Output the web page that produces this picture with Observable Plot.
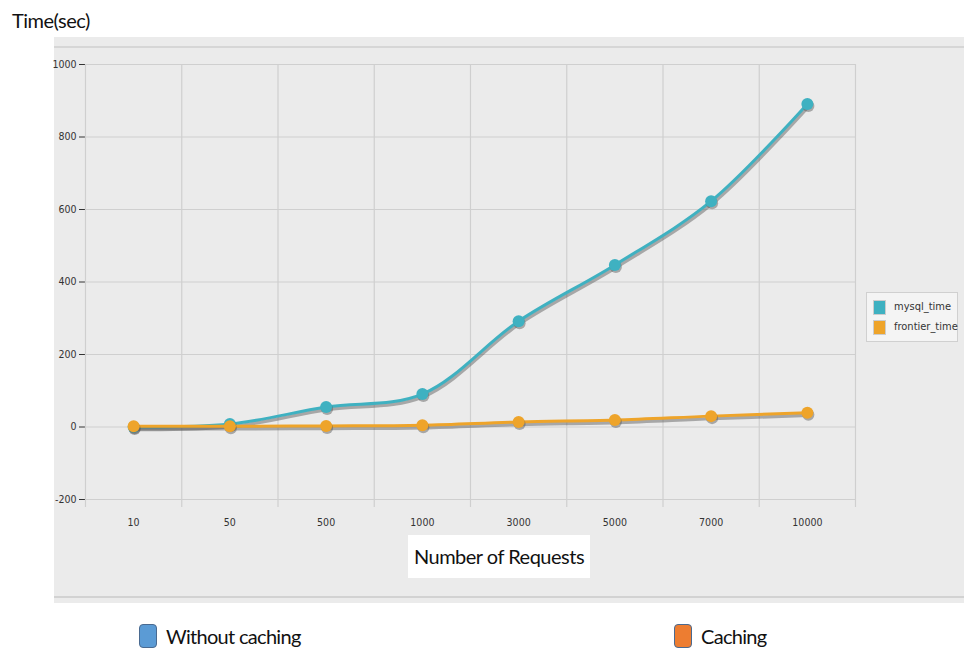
<!DOCTYPE html>
<html><head><meta charset="utf-8">
<script src="https://cdn.jsdelivr.net/npm/d3@7"></script>
<script src="https://cdn.jsdelivr.net/npm/@observablehq/plot@0.6"></script>
<style>
body{margin:0;background:#fff;width:964px;height:651px;position:relative;overflow:hidden;font-family:Lato,"Open Sans",sans-serif;}
#ytitle{position:absolute;left:12px;top:8px;font-size:20px;letter-spacing:-0.5px;color:#111;}
#panel{position:absolute;left:54px;top:37px;width:910px;height:566px;background:#ebebeb;}
#panel .topline{position:absolute;left:0;top:9px;width:910px;height:2px;background:#d6d6d6;}
#panel .botline{position:absolute;left:0;top:559px;width:910px;height:2px;background:#d2d2d2;}
#chart{position:absolute;left:0;top:10px;}
#chart svg{overflow:visible;}
#xtitle{position:absolute;left:354px;top:498px;width:182px;height:43px;background:#fff;font-size:20px;letter-spacing:-0.5px;line-height:43px;text-align:center;color:#111;}
#rlegend{position:absolute;left:812px;top:255px;width:90px;height:48px;background:#f4f4f4;border:1px solid #d0d0d0;font-family:"Liberation Sans Narrow","DejaVu Sans Condensed",sans-serif;font-size:11px;color:#333;}
#rlegend .it{position:absolute;left:6px;height:16px;line-height:16px;white-space:nowrap;}
#rlegend .sw{display:inline-block;width:11px;height:13px;border:1px solid #ccc;vertical-align:middle;margin-right:8px;}
.bl{position:absolute;top:622px;font-size:20px;letter-spacing:-0.7px;color:#111;line-height:28px;white-space:nowrap;}
.bl .sw{display:inline-block;width:16px;height:22px;border-radius:4px;vertical-align:-4px;margin-right:9px;}
</style></head>
<body>
<div id="ytitle">Time(sec)</div>
<div id="panel">
  <div class="topline"></div>
  <div class="botline"></div>
  <div id="chart"></div>
  <div id="xtitle">Number of Requests</div>
  <div id="rlegend"></div>
</div>
<div id="blegend"></div>
<script>
const requests = ["10","50","500","1000","3000","5000","7000","10000"];
const mysqlTime = [0, 8, 55, 91, 292, 447, 623, 891];
const frontierTime = [2, 2, 3, 5, 14, 19, 30, 39];
const yTicks = [-200, 0, 200, 400, 600, 800, 1000];
const seriesNames = ["mysql_time", "frontier_time"];
const seriesColors = ["#3fb1c1", "#eea42a"];
const bottomNames = ["Without caching", "Caching"];
const bottomColors = ["#5b9bd5", "#ed7d31"];

const idx = requests.map((_, i) => i);
const mysql = idx.map(i => ({i, v: mysqlTime[i]}));
const frontier = idx.map(i => ({i, v: frontierTime[i]}));
const bounds = d3.range(-0.5, requests.length, 1);

const chart = Plot.plot({
  width: 910,
  height: 543,
  marginLeft: 31,
  marginRight: 109,
  marginTop: 17,
  marginBottom: 83,
  insetBottom: 8,
  style: {background: "transparent", fontFamily: "'Liberation Sans Narrow','DejaVu Sans Condensed',sans-serif", fontSize: "10.5px", color: "#333", overflow: "visible"},
  x: {type: "linear", domain: [-0.5, requests.length - 0.5], ticks: idx, tickFormat: i => requests[i], tickSize: 0, tickPadding: 11, label: null},
  y: {domain: [-200, 1000], ticks: yTicks, tickFormat: d => String(d), tickSize: 6, tickPadding: 3, label: null},
  marks: [
    Plot.ruleY(yTicks, {stroke: "#cfcfcf", strokeWidth: 1.2}),
    Plot.ruleX(bounds, {stroke: "#cfcfcf", strokeWidth: 1.2}),
    Plot.line(mysql, {x: "i", y: "v", stroke: "#555", strokeOpacity: 0.45, strokeWidth: 3.5, curve: "catmull-rom", dx: 1, dy: 2.5}),
    Plot.line(mysql, {x: "i", y: "v", stroke: seriesColors[0], strokeWidth: 3, curve: "catmull-rom"}),
    Plot.dot(mysql, {x: "i", y: "v", fill: "#555", fillOpacity: 0.45, r: 6, dx: 1, dy: 2}),
    Plot.dot(mysql, {x: "i", y: "v", fill: seriesColors[0], r: 6}),
    Plot.line(frontier, {x: "i", y: "v", stroke: "#555", strokeOpacity: 0.45, strokeWidth: 3.5, curve: "catmull-rom", dx: 1, dy: 2.5}),
    Plot.line(frontier, {x: "i", y: "v", stroke: seriesColors[1], strokeWidth: 3, curve: "catmull-rom"}),
    Plot.dot(frontier, {x: "i", y: "v", fill: "#555", fillOpacity: 0.45, r: 6, dx: 1, dy: 2}),
    Plot.dot(frontier, {x: "i", y: "v", fill: seriesColors[1], r: 6})
  ]
});
document.getElementById("chart").appendChild(chart);

const rl = document.getElementById("rlegend");
seriesNames.forEach((n, k) => {
  const d = document.createElement("div");
  d.className = "it";
  d.style.top = (6 + k * 20) + "px";
  d.innerHTML = `<span class="sw" style="background:${seriesColors[k]}"></span>${n}`;
  rl.appendChild(d);
});
const bl = document.getElementById("blegend");
const blX = [139, 674];
bottomNames.forEach((n, k) => {
  const d = document.createElement("div");
  d.className = "bl";
  d.style.left = blX[k] + "px";
  d.innerHTML = `<span class="sw" style="background:${bottomColors[k]};border:1px solid #4a6a90"></span>${n}`;
  bl.appendChild(d);
});
</script>
</body></html>
